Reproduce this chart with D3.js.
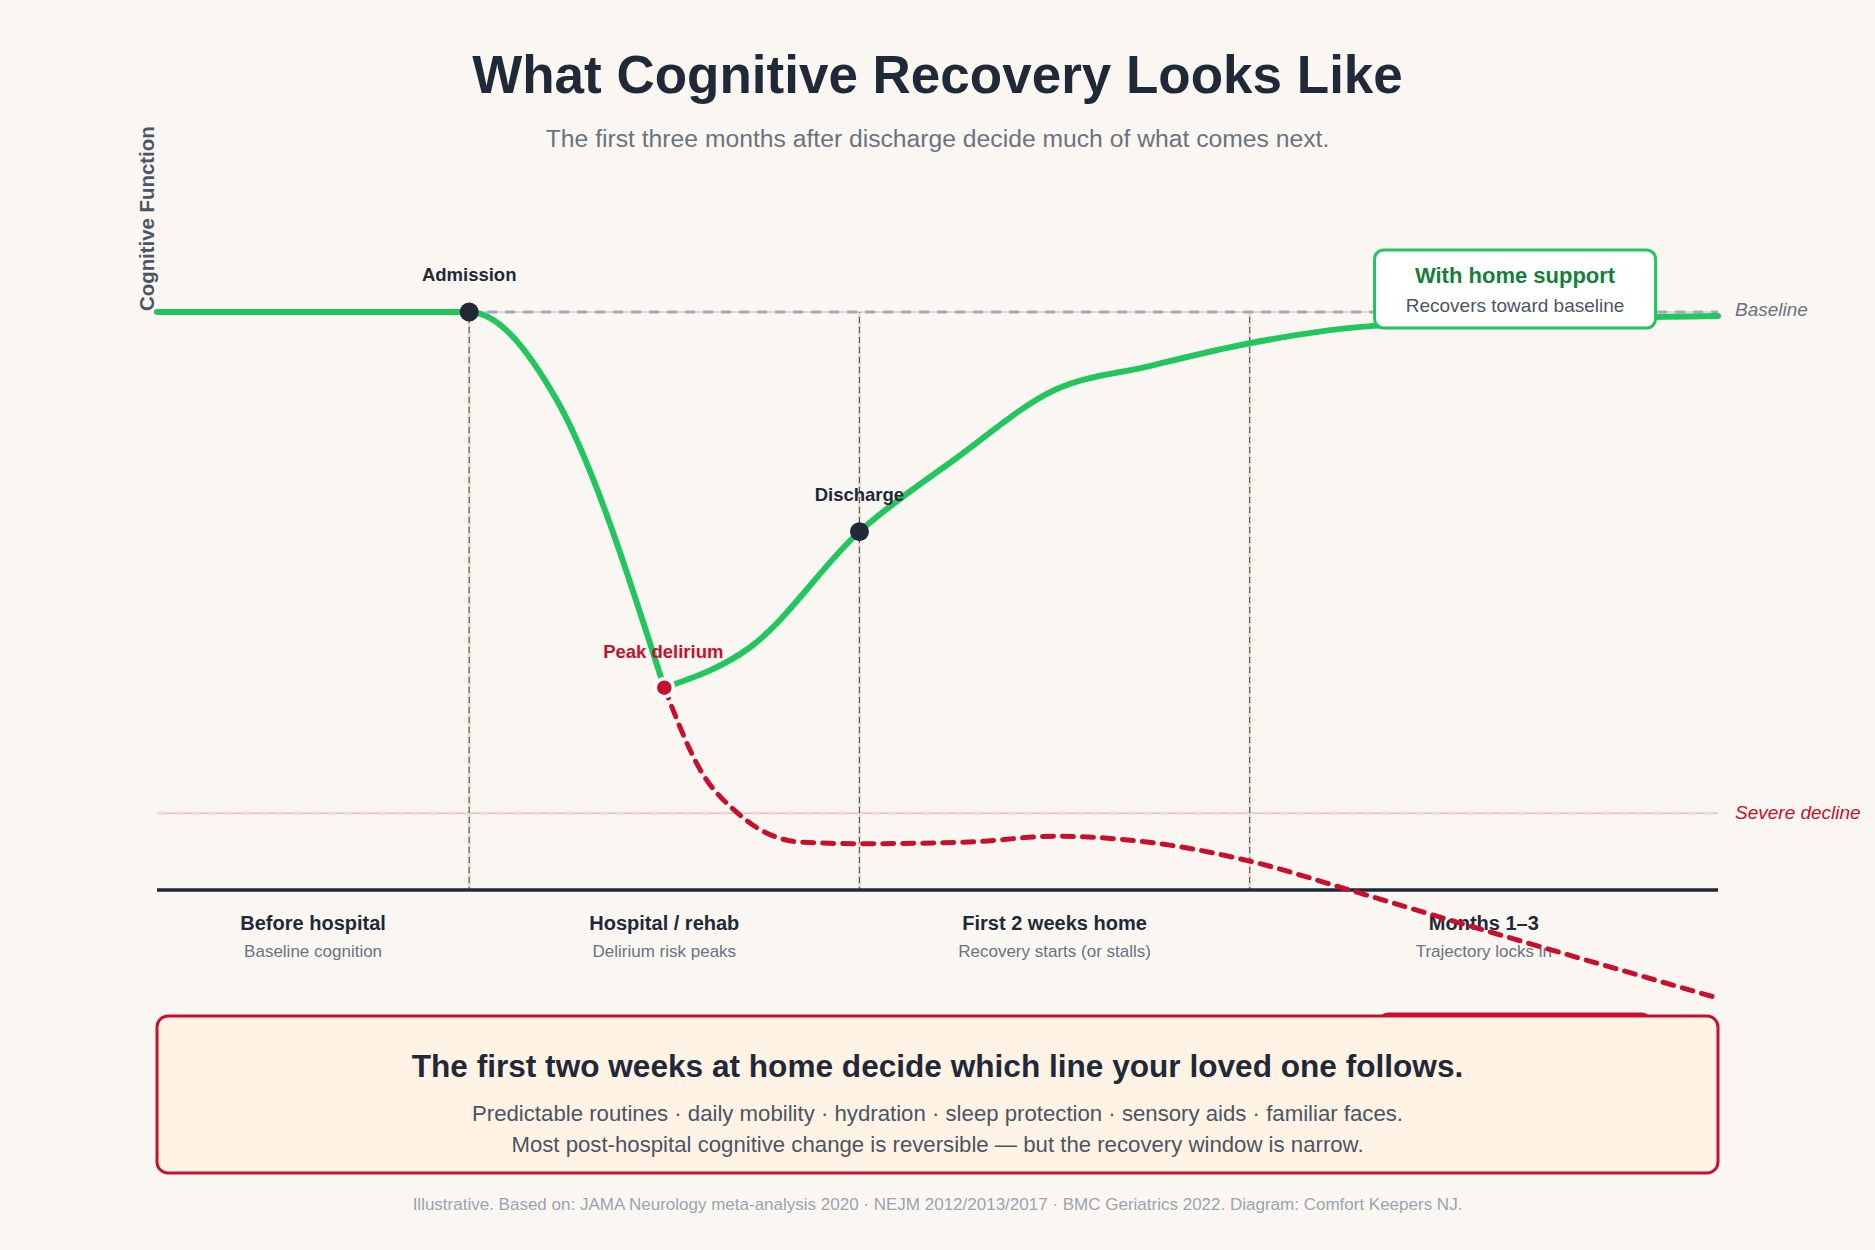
<!DOCTYPE html>
<html>
<head>
<meta charset="utf-8">
<script src="https://cdn.jsdelivr.net/npm/d3@7"></script>
<style>
  html, body { margin: 0; padding: 0; background: #faf7f2; }
  svg { display: block; }
  text { font-family: "Liberation Sans", Arial, Helvetica, sans-serif; }
</style>
</head>
<body>
<div id="chart"></div>
<script>
// ---------- DATA ----------
const phaseBounds = [0, 20, 45, 70, 100];
const phaseNames = ["Before hospital", "Hospital / rehab", "First 2 weeks home", "Months 1\u20133"];
const phaseNotes = ["Baseline cognition", "Delirium risk peaks", "Recovery starts (or stalls)", "Trajectory locks in"];

// green: decline from baseline into delirium
const declineX = [0, 20, 25.6, 32.5];
const declineY = [100, 100, 84.8, 35];

// green: recovery with home support
const recoveryX = [32.5, 38.0, 45, 51.2, 57.5, 63.5, 70, 78, 100];
const recoveryY = [35, 42.0, 62, 74.7, 86.5, 90.6, 94.6, 97.6, 99.3];

// red dashed: without support
const stallX = [32.5, 34.8, 37.2, 41.2, 45, 52, 57.5, 64, 70, 76.4, 81.7, 100];
const stallY = [35, 20.8, 13.3, 8.3, 8.0, 8.3, 9.3, 8.1, 5.0, 0, -4.3, -18.7];

const baselineLevel = 100;
const severeLevel = 13.3;

const milestoneNames = ["Admission", "Discharge"];
const milestoneX = [20, 45];
const milestoneY = [100, 62];
const peakLabel = "Peak delirium";
const peakX = 32.5, peakY = 35;

const titleText = "What Cognitive Recovery Looks Like";
const subtitleText = "The first three months after discharge decide much of what comes next.";
const yAxisLabel = "Cognitive Function";
const supportTitle = "With home support";
const supportNote = "Recovers toward baseline";
const supportCenterX = 87;
const calloutTitle = "The first two weeks at home decide which line your loved one follows.";
const calloutLines = [
  "Predictable routines \u00b7 daily mobility \u00b7 hydration \u00b7 sleep protection \u00b7 sensory aids \u00b7 familiar faces.",
  "Most post-hospital cognitive change is reversible \u2014 but the recovery window is narrow."
];
const footerText = "Illustrative. Based on: JAMA Neurology meta-analysis 2020 \u00b7 NEJM 2012/2013/2017 \u00b7 BMC Geriatrics 2022. Diagram: Comfort Keepers NJ.";

// ---------- STYLE ----------
const W = 1875, H = 1250;
const C = {
  bg: "#faf7f2", dark: "#1f2937", green: "#22c55e", greenText: "#15803d",
  red: "#c8102e", gray: "#6b7280", grayMid: "#4b5563", light: "#9ca3af",
  callFill: "#fff3e5"
};

const svg = d3.select("#chart").append("svg")
  .attr("width", W).attr("height", H)
  .style("background", C.bg);

const x = d3.scaleLinear().domain([0, 100]).range([157, 1718]);
const y = d3.scaleLinear().domain([0, 100]).range([890, 312]);

// Title
svg.append("text").attr("x", W / 2).attr("y", 93)
  .attr("text-anchor", "middle").attr("font-size", 53).attr("font-weight", 700)
  .attr("fill", C.dark).text(titleText);
svg.append("text").attr("x", W / 2).attr("y", 147)
  .attr("text-anchor", "middle").attr("font-size", 24.7)
  .attr("fill", C.gray).text(subtitleText);

// y axis label
svg.append("text")
  .attr("transform", `translate(154, ${y(baselineLevel) - 1}) rotate(-90)`)
  .attr("text-anchor", "start").attr("font-size", 20.4).attr("font-weight", 700)
  .attr("fill", C.grayMid).text(yAxisLabel);

// severe decline reference
svg.append("line").attr("x1", x(0)).attr("x2", x(100))
  .attr("y1", y(severeLevel)).attr("y2", y(severeLevel))
  .attr("stroke", "#b9b2ab").attr("stroke-width", 1);
svg.append("line").attr("x1", x(0)).attr("x2", x(100))
  .attr("y1", y(severeLevel)).attr("y2", y(severeLevel))
  .attr("stroke", "#f6d5da").attr("stroke-width", 3).attr("stroke-dasharray", "9,8");
svg.append("text").attr("x", x(100) + 17).attr("y", y(severeLevel) + 6)
  .attr("font-size", 19).attr("font-style", "italic").attr("fill", C.red).text("Severe decline");

// phase dividers
phaseBounds.slice(1, -1).forEach(b => {
  svg.append("line").attr("x1", x(b)).attr("x2", x(b))
    .attr("y1", y(baselineLevel)).attr("y2", y(0))
    .attr("stroke", "#e6dcc7").attr("stroke-width", 3).attr("stroke-dasharray", "6,4");
  svg.append("line").attr("x1", x(b)).attr("x2", x(b))
    .attr("y1", y(baselineLevel)).attr("y2", y(0))
    .attr("stroke", "#4b5058").attr("stroke-width", 1.2).attr("stroke-dasharray", "6,4")
    .attr("stroke-dashoffset", 5);
});

// baseline reference
svg.append("line").attr("x1", x(20)).attr("x2", x(100))
  .attr("y1", y(baselineLevel)).attr("y2", y(baselineLevel))
  .attr("stroke", "#b8bcc4").attr("stroke-width", 1);
svg.append("line").attr("x1", x(20)).attr("x2", x(100))
  .attr("y1", y(baselineLevel)).attr("y2", y(baselineLevel))
  .attr("stroke", "#a3a9b4").attr("stroke-width", 3).attr("stroke-dasharray", "10,8");
svg.append("text").attr("x", x(100) + 17).attr("y", y(baselineLevel) + 4)
  .attr("font-size", 19).attr("font-style", "italic").attr("fill", C.gray).text("Baseline");

// x axis
svg.append("line").attr("x1", x(0)).attr("x2", x(100))
  .attr("y1", y(0)).attr("y2", y(0))
  .attr("stroke", C.dark).attr("stroke-width", 3.5);

// phase labels
phaseNames.forEach((n, i) => {
  const cx = x((phaseBounds[i] + phaseBounds[i + 1]) / 2);
  svg.append("text").attr("x", cx).attr("y", y(0) + 40)
    .attr("text-anchor", "middle").attr("font-size", 20).attr("font-weight", 700)
    .attr("fill", C.dark).text(n);
  svg.append("text").attr("x", cx).attr("y", y(0) + 67)
    .attr("text-anchor", "middle").attr("font-size", 17)
    .attr("fill", C.gray).text(phaseNotes[i]);
});

const line = d3.line().x(d => x(d[0])).y(d => y(d[1])).curve(d3.curveMonotoneX);

// red dashed stall line
svg.append("path").datum(d3.zip(stallX, stallY)).attr("d", line)
  .attr("fill", "none").attr("stroke", C.red).attr("stroke-width", 5)
  .attr("stroke-linecap", "round").attr("stroke-dasharray", "11,9");

// green lines
[d3.zip(declineX, declineY), d3.zip(recoveryX, recoveryY)].forEach(seg => {
  svg.append("path").datum(seg).attr("d", line)
    .attr("fill", "none").attr("stroke", C.green).attr("stroke-width", 6)
    .attr("stroke-linecap", "round").attr("stroke-linejoin", "round");
});

// hidden "without support" card (mostly behind callout)
svg.append("rect").attr("x", x(supportCenterX) - 135).attr("y", 1014)
  .attr("width", 270).attr("height", 70).attr("rx", 8)
  .attr("fill", "#ffffff").attr("stroke", C.red).attr("stroke-width", 3);

// support card
const cardW = 281, cardH = 78;
const cardX = x(supportCenterX) - cardW / 2, cardY = y(baselineLevel) - 62;
svg.append("rect").attr("x", cardX).attr("y", cardY).attr("width", cardW).attr("height", cardH)
  .attr("rx", 9).attr("fill", "#ffffff").attr("stroke", C.green).attr("stroke-width", 3);
svg.append("text").attr("x", x(supportCenterX)).attr("y", cardY + 33)
  .attr("text-anchor", "middle").attr("font-size", 22).attr("font-weight", 700)
  .attr("fill", C.greenText).text(supportTitle);
svg.append("text").attr("x", x(supportCenterX)).attr("y", cardY + 62)
  .attr("text-anchor", "middle").attr("font-size", 19)
  .attr("fill", C.grayMid).text(supportNote);

// milestones
milestoneNames.forEach((n, i) => {
  svg.append("circle").attr("cx", x(milestoneX[i])).attr("cy", y(milestoneY[i])).attr("r", 9.5)
    .attr("fill", C.dark);
  svg.append("text").attr("x", x(milestoneX[i])).attr("y", y(milestoneY[i]) - 31)
    .attr("text-anchor", "middle").attr("font-size", 18.5).attr("font-weight", 700)
    .attr("fill", C.dark).text(n);
});
svg.append("circle").attr("cx", x(peakX)).attr("cy", y(peakY)).attr("r", 9)
  .attr("fill", C.red).attr("stroke", "#ffffff").attr("stroke-width", 3.5);
svg.append("text").attr("x", x(peakX) - 1).attr("y", y(peakY) - 30)
  .attr("text-anchor", "middle").attr("font-size", 18.5).attr("font-weight", 700)
  .attr("fill", C.red).text(peakLabel);

// callout
svg.append("rect").attr("x", x(0)).attr("y", 1016).attr("width", x(100) - x(0)).attr("height", 157)
  .attr("rx", 11).attr("fill", C.callFill).attr("stroke", C.red).attr("stroke-width", 3);
svg.append("text").attr("x", W / 2).attr("y", 1077)
  .attr("text-anchor", "middle").attr("font-size", 31.6).attr("font-weight", 700)
  .attr("fill", C.dark).text(calloutTitle);
calloutLines.forEach((t, i) => {
  svg.append("text").attr("x", W / 2).attr("y", 1121 + i * 31)
    .attr("text-anchor", "middle").attr("font-size", 22.2)
    .attr("fill", C.grayMid).text(t);
});

// footer
svg.append("text").attr("x", W / 2).attr("y", 1210)
  .attr("text-anchor", "middle").attr("font-size", 17)
  .attr("fill", C.light).text(footerText);
</script>
</body>
</html>
